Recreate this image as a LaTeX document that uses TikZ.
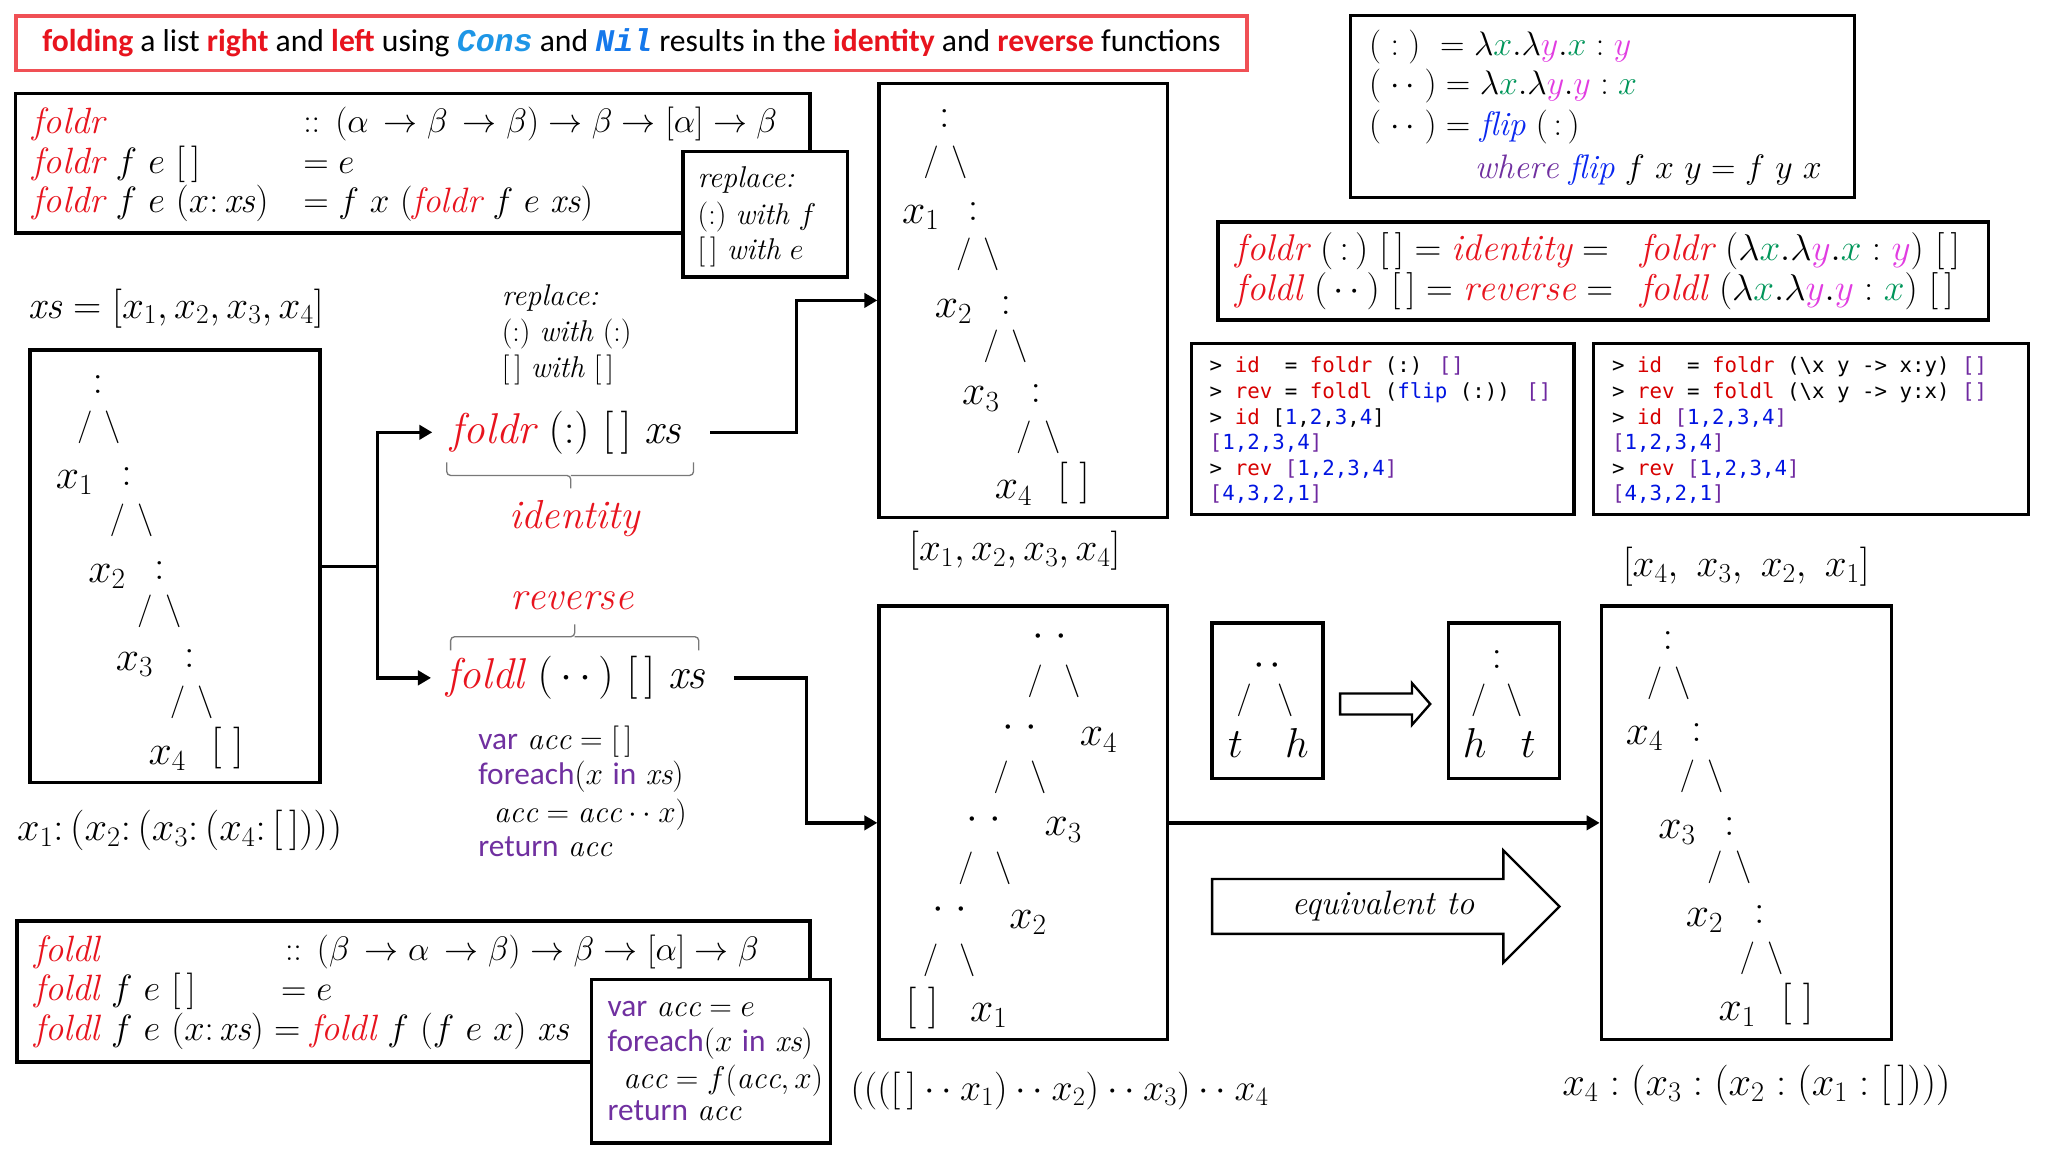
\RequirePackage{fix-cm}
\documentclass[tikz,border=0pt]{standalone}
\usepackage{amsmath}
\usepackage{fontspec}
\usetikzlibrary{arrows.meta}
\newfontfamily\carl{Carlito}
\newfontfamily\dmono{DejaVu Sans Mono}
\newfontfamily\lmono{Liberation Mono}
\definecolor{tred}{RGB}{232,20,30}
\definecolor{tborder}{RGB}{240,80,85}
\definecolor{cblue}{RGB}{30,150,230}
\definecolor{nblue}{RGB}{20,120,235}
\definecolor{fblue}{RGB}{10,40,240}
\definecolor{cpurp}{RGB}{112,48,160}
\definecolor{cgreen}{RGB}{0,150,90}
\definecolor{cmag}{RGB}{225,60,225}
\definecolor{kred}{RGB}{215,0,0}
\definecolor{kblue}{RGB}{0,20,225}
\definecolor{kpurp}{RGB}{110,40,160}
\definecolor{bracegray}{RGB}{120,120,120}
\newcommand\GX{\textcolor{cgreen}{x}}
\newcommand\MY{\textcolor{cmag}{y}}
\newcommand\RD[1]{\textcolor{tred}{#1}}
\newcommand\KR[1]{\textcolor{kred}{#1}}
\newcommand\KB[1]{\textcolor{kblue}{#1}}
\newcommand\KP[1]{\textcolor{kpurp}{#1}}
\newcommand\KW[1]{{\carl\color{cpurp}#1}}
\newcommand\DOTS{\mathbin{{\cdot}\mkern3mu{\cdot}}}
\newcommand\PDOTS{(\,{\cdot}\mkern3mu{\cdot}\,)}
\newcommand\PDOTW{(\;{\cdot}\mkern3mu{\cdot}\;)}
\newcommand\SLN{$/\mkern7mu\backslash$}
\newcommand\SLW{$/\mkern12mu\backslash$}
\newcommand\ConsTree[6]{%
\begin{scope}[shift={#2}]
\node[trn] (#1c0) at (0,0) {$:$};
\node[tsl] (#1s0) at (1,34) {\SLN};
\node[trn] (#1xa) at (-18,73) {$x_{#3}$};
\node[trn] (#1c1) at (22,71) {$:$};
\node[tsl] (#1s1) at (26,105) {\SLN};
\node[trn] (#1xb) at (7,145) {$x_{#4}$};
\node[trn] (#1c2) at (47,143) {$:$};
\node[tsl] (#1s2) at (47,175) {\SLN};
\node[trn] (#1xc) at (28,212) {$x_{#5}$};
\node[trn] (#1c3) at (70,210) {$:$};
\node[tsl] (#1s3) at (72,245) {\SLN};
\node[trn] (#1xd) at (53,284) {$x_{#6}$};
\node[trn] (#1nil) at (99,280) {$[\;]$};
\end{scope}}
\begin{document}
\begin{tikzpicture}[x=1pt,y=-1pt,
  bx/.style={draw, line width=2.6pt, fill=white, inner sep=0pt},
  conn/.style={line width=2.6pt, -{Triangle[length=10pt,width=11pt]}},
  ln/.style={line width=2.6pt},
  hollow/.style={draw, line width=1.8pt, fill=white, line join=miter},
  brc/.style={draw=bracegray, line width=1pt, rounded corners=3pt},
  lbl/.style={inner sep=0pt, anchor=west},
  z23/.style={font=\fontsize{23}{27}\selectfont, text height=17.25pt, text depth=5.75pt},
  z24/.style={font=\fontsize{24}{28}\selectfont, text height=18pt, text depth=6pt},
  z26/.style={font=\fontsize{26}{30}\selectfont, text height=19.5pt, text depth=6.5pt},
  z27/.style={font=\fontsize{27}{31}\selectfont, text height=20.25pt, text depth=6.75pt},
  z28/.style={font=\fontsize{28}{32}\selectfont, text height=21pt, text depth=7pt},
  z285/.style={font=\fontsize{28.5}{33}\selectfont, text height=21.4pt, text depth=7.1pt},
  z29/.style={font=\fontsize{29}{33}\selectfont, text height=21.75pt, text depth=7.25pt},
  z30/.style={font=\fontsize{30}{34}\selectfont, text height=22.5pt, text depth=7.5pt},
  z31/.style={font=\fontsize{31}{36}\selectfont, text height=23.25pt, text depth=7.75pt},
  z33/.style={font=\fontsize{33}{38}\selectfont, text height=24.75pt, text depth=8.25pt},
  trn/.style={inner sep=0pt, font=\fontsize{32}{36}\selectfont, text height=24pt, text depth=8pt},
  tsl/.style={inner sep=0pt, font=\fontsize{25}{30}\selectfont, text height=18.75pt, text depth=6.25pt},
  mono/.style={inner sep=0pt, anchor=west, font=\dmono\fontsize{15.9}{19}\selectfont, text height=12pt, text depth=4pt}
]
\useasboundingbox[fill=white] (0,0) rectangle (1568,882);

% ---------- title ----------
\node[draw=tborder, line width=3pt, minimum width=943pt, minimum height=42pt, inner sep=0pt,
      font=\carl\fontsize{24.2}{28}\selectfont] (title) at (483.5,33)
 {{\bfseries\color{tred}folding} a list {\bfseries\color{tred}right} and {\bfseries\color{tred}left} using {\lmono\bfseries\itshape\color{cblue}Cons} and {\lmono\bfseries\itshape\color{nblue}Nil} results in the {\bfseries\color{tred}identity} and {\bfseries\color{tred}reverse} functions};

% ---------- foldr definition ----------
\node[bx, minimum width=608pt, minimum height=107pt] (frbox) at (316,125) {};
\node[lbl,z28] (fr1) at (25,95) {$\RD{\mathit{foldr}}$};
\node[lbl,z26] (fr1t) at (232,95) {$::\,(\alpha\,\to\beta\,\to\beta)\to\beta\to[\alpha]\to\beta$};
\node[lbl,z28] (fr2) at (25,126) {$\RD{\mathit{foldr}}\ f\ e\ [\,]$};
\node[lbl,z27] (fr2t) at (232,126) {$=e$};
\node[lbl,z28] (fr3) at (25,156) {$\RD{\mathit{foldr}}\ f\ e\ (x{:}\,\mathit{xs})$};
\node[lbl,z27] (fr3t) at (232,156) {$=f\ x\ (\RD{\mathit{foldr}}\ f\ e\ \mathit{xs})$};

\node[bx, minimum width=126pt, minimum height=96pt] (rpbox) at (586,164) {};
\node[lbl,z23] (rp1) at (534,138) {\textit{replace:}};
\node[lbl,z23] (rp2) at (534,166) {$({:})$ \textit{with} $f$};
\node[lbl,z23] (rp3) at (534,193) {$[\,]$ \textit{with} $e$};

% ---------- lambda box ----------
\node[bx, minimum width=386pt, minimum height=139pt] (lambox) at (1227,81.5) {};
\node[lbl,z26] (lam1) at (1048,36) {$(\;:\;)\ =\lambda\GX.\lambda\MY.\GX:\MY$};
\node[lbl,z26] (lam2) at (1048,66) {$\PDOTW=\lambda\GX.\lambda\MY.\MY:\GX$};
\node[lbl,z26] (lam3) at (1048,97) {$\PDOTW=\textcolor{fblue}{\mathit{flip}}\ (\,:\,)$};
\node[lbl,z26] (lam4) at (1129,130) {$\textcolor{cpurp}{\mathit{where}}\ \textcolor{fblue}{\mathit{flip}}\ f\ x\ y=f\ y\ x$};

% ---------- identity / reverse box ----------
\node[bx, minimum width=590pt, minimum height=75pt] (idbox) at (1227.5,207.5) {};
\node[lbl,z285] (id1a) at (946,192) {$\RD{\mathit{foldr}}\ (\,:\,)\ [\,]=\RD{\mathit{identity}}=$};
\node[lbl,z285] (id1b) at (1256,192) {$\RD{\mathit{foldr}}\ (\lambda\GX.\lambda\MY.\GX:\MY)\ [\,]$};
\node[lbl,z285] (id2a) at (946,223) {$\RD{\mathit{foldl}}\ \PDOTS\ [\,]=\RD{\mathit{reverse}}=$};
\node[lbl,z285] (id2b) at (1256,223) {$\RD{\mathit{foldl}}\ (\lambda\GX.\lambda\MY.\MY:\GX)\ [\,]$};

% ---------- code boxes ----------
\node[bx, minimum width=293pt, minimum height=131pt] (cb1) at (1058.5,328.5) {};
\node[mono] (ca1) at (926,281) {> \KR{id}\ \ = \KR{foldr} (:) \KP{[]}};
\node[mono] (ca2) at (926,301) {> \KR{rev} = \KR{foldl} (\KB{flip} (:)) \KP{[]}};
\node[mono] (ca3) at (926,321) {> \KR{id} [\KB{1},\KB{2},\KB{3},\KB{4}]};
\node[mono] (ca4) at (926,340.5) {\KP{[}\KB{1,2,3,4}\KP{]}};
\node[mono] (ca5) at (926,360) {> \KR{rev} \KP{[}\KB{1,2,3,4}\KP{]}};
\node[mono] (ca6) at (926,379.5) {\KP{[}\KB{4,3,2,1}\KP{]}};

\node[bx, minimum width=333pt, minimum height=131pt] (cb2) at (1386.5,328.5) {};
\node[mono] (cc1) at (1234,281) {> \KR{id}\ \ = \KR{foldr} (\textbackslash x y -> x:y) \KP{[]}};
\node[mono] (cc2) at (1234,301) {> \KR{rev} = \KR{foldl} (\textbackslash x y -> y:x) \KP{[]}};
\node[mono] (cc3) at (1234,321) {> \KR{id} \KP{[}\KB{1,2,3,4}\KP{]}};
\node[mono] (cc4) at (1234,340.5) {\KP{[}\KB{1,2,3,4}\KP{]}};
\node[mono] (cc5) at (1234,360) {> \KR{rev} \KP{[}\KB{1,2,3,4}\KP{]}};
\node[mono] (cc6) at (1234,379.5) {\KP{[}\KB{4,3,2,1}\KP{]}};

% ---------- left list and tree ----------
\node[lbl,z30] (xsdef) at (22,236) {$\mathit{xs}=[x_1,x_2,x_3,x_4]$};
\node[bx, minimum width=222pt, minimum height=331pt] (ltbox) at (134,433.5) {};
\ConsTree{lt}{(75,293)}{1}{2}{3}{4}
\node[lbl,z31] (ltcap) at (13,636) {$x_1{:}\,(x_2{:}\,(x_3{:}\,(x_4{:}\,[\,])))$};

% ---------- middle column ----------
\node[lbl,z23] (mrp1) at (384,228) {\textit{replace:}};
\node[lbl,z23] (mrp2) at (384,256) {$({:})$ \textit{with} $({:})$};
\node[lbl,z23] (mrp3) at (384,283) {$[\,]$ \textit{with} $[\,]$};
\node[lbl,z33] (frx) at (345,331) {$\RD{\mathit{foldr}}\ ({:})\ [\,]\ \mathit{xs}$};
\draw[brc] (342,354) |- (437,364) -- (437,374);
\draw[brc] (531,354) |- (437,364);
\node[z31, inner sep=0pt] (ident) at (440,397) {$\RD{\mathit{identity}}$};
\node[z31, inner sep=0pt] (rever) at (438,459) {$\RD{\mathit{reverse}}$};
\draw[brc] (345,498) |- (440,487.5) -- (440,478);
\draw[brc] (535,498) |- (440,487.5);
\node[lbl,z33] (flx) at (342,519) {$\RD{\mathit{foldl}}\ \PDOTS\ [\,]\ \mathit{xs}$};

\node[lbl,z24] (ic1) at (366,568) {\KW{var} $\mathit{acc}=[\,]$};
\node[lbl,z24] (ic2) at (366,595) {\KW{foreach}$(x$ \KW{in} $\mathit{xs})$};
\node[lbl,z24] (ic3) at (378,624) {$\mathit{acc}=\mathit{acc}\DOTS x)$};
\node[lbl,z24] (ic4) at (366,650) {\KW{return} $\mathit{acc}$};

% ---------- foldl definition ----------
\node[bx, minimum width=607pt, minimum height=108pt] (flbox) at (316.5,759) {};
\node[lbl,z28] (fl1) at (26,729) {$\RD{\mathit{foldl}}$};
\node[lbl,z26] (fl1t) at (218,729) {$::\,(\beta\,\to\alpha\,\to\beta)\to\beta\to[\alpha]\to\beta$};
\node[lbl,z28] (fl2) at (26,759) {$\RD{\mathit{foldl}}\ f\ e\ [\,]$};
\node[lbl,z27] (fl2t) at (215,759) {$=e$};
\node[lbl,z28] (fl3) at (26,790) {$\RD{\mathit{foldl}}\ f\ e\ (x{:}\,\mathit{xs})=\RD{\mathit{foldl}}\ f\ (f\ e\ x)\ \mathit{xs}$};

\node[bx, minimum width=183pt, minimum height=125pt] (imbox) at (544.5,812.5) {};
\node[lbl,z24] (im1) at (465,772) {\KW{var} $\mathit{acc}=e$};
\node[lbl,z24] (im2) at (465,799) {\KW{foreach}$(x$ \KW{in} $\mathit{xs})$};
\node[lbl,z24] (im3) at (477,827) {$\mathit{acc}=f(\mathit{acc},x)$};
\node[lbl,z24] (im4) at (465,852) {\KW{return} $\mathit{acc}$};

% ---------- top middle tree ----------
\node[bx, minimum width=221pt, minimum height=332pt] (tmbox) at (783.5,230) {};
\ConsTree{tm}{(723,90)}{1}{2}{3}{4}
\node[z30, inner sep=0pt] (tmcap) at (777,422) {$[x_1,x_2,x_3,x_4]$};

% ---------- bottom middle tree ----------
\node[bx, minimum width=221pt, minimum height=332pt] (bmbox) at (783.5,630) {};
\node[trn] (bd0) at (804,487) {${\cdot}\mkern5mu{\cdot}$};
\node[tsl] (bs0) at (807,522) {\SLW};
\node[trn] (bd1) at (781,557) {${\cdot}\mkern5mu{\cdot}$};
\node[trn] (bx4) at (841,563) {$x_4$};
\node[tsl] (bs1) at (781,595) {\SLW};
\node[trn] (bd2) at (753,627) {${\cdot}\mkern5mu{\cdot}$};
\node[trn] (bx3) at (814,632) {$x_3$};
\node[tsl] (bs2) at (754,665) {\SLW};
\node[trn] (bd3) at (727,696) {${\cdot}\mkern5mu{\cdot}$};
\node[trn] (bx2) at (787,703) {$x_2$};
\node[tsl] (bs3) at (727,735) {\SLW};
\node[trn] (bnil) at (706,772) {$[\;]$};
\node[trn] (bx1) at (757,774) {$x_1$};
\node[lbl,z29] (bmcap) at (651,835) {$((([\,]\DOTS x_1)\DOTS x_2)\DOTS x_3)\DOTS x_4$};

% ---------- small swap boxes ----------
\node[bx, minimum width=85pt, minimum height=119pt] (sw1) at (970.5,536.5) {};
\node[trn] (sw1d) at (970,509) {${\cdot}\mkern2mu{\cdot}$};
\node[tsl] (sw1s) at (968.5,536) {$/\mkern14mu\backslash$};
\node[trn] (sw1t) at (946,572) {$t$};
\node[trn] (sw1h) at (993,572) {$h$};
\node[bx, minimum width=85pt, minimum height=119pt] (sw2) at (1151.3,536.5) {};
\node[trn] (sw2c) at (1146,504) {$:$};
\node[tsl] (sw2s) at (1146,536) {$/\mkern11mu\backslash$};
\node[trn] (sw2h) at (1129,572) {$h$};
\node[trn] (sw2t) at (1170,572) {$t$};
\draw[hollow] (1026,531) -- (1081,531) -- (1081,523) -- (1095,539) -- (1081,555) -- (1081,547) -- (1026,547) -- cycle;

% ---------- equivalent arrow ----------
\draw[hollow] (928,673) -- (1151,673) -- (1151,651) -- (1194,694) -- (1151,737) -- (1151,715) -- (928,715) -- cycle;
\node[z26, inner sep=0pt] (eqv) at (1059,694) {\textit{equivalent to}};

% ---------- right tree ----------
\node[z30, inner sep=0pt] (rtcap) at (1337,434) {$[x_4,\ x_3,\ x_2,\ x_1]$};
\node[bx, minimum width=222pt, minimum height=332pt] (rtbox) at (1337,630) {};
\ConsTree{rt}{(1277,489)}{4}{3}{2}{1}
\node[lbl,z31] (rtcap2) at (1196,831) {$x_4:(x_3:(x_2:(x_1:[\,])))$};

% ---------- connectors ----------
\coordinate (split) at (289,433.5);
\coordinate (j1) at (610,331);
\coordinate (j2) at (617.5,519);
\draw[ln] (ltbox.east) -- (split);
\draw[conn] (split) |- ([xshift=-14pt]frx.west);
\draw[conn] (split) |- ([xshift=-12pt]flx.west);
\draw[conn] ([xshift=22pt]frx.east) -| (j1) |- (tmbox.west);
\draw[conn] ([xshift=22pt]flx.east) -| (j2) |- (bmbox.west);
\draw[conn] (bmbox.east) -- (rtbox.west);
\end{tikzpicture}
\end{document}
